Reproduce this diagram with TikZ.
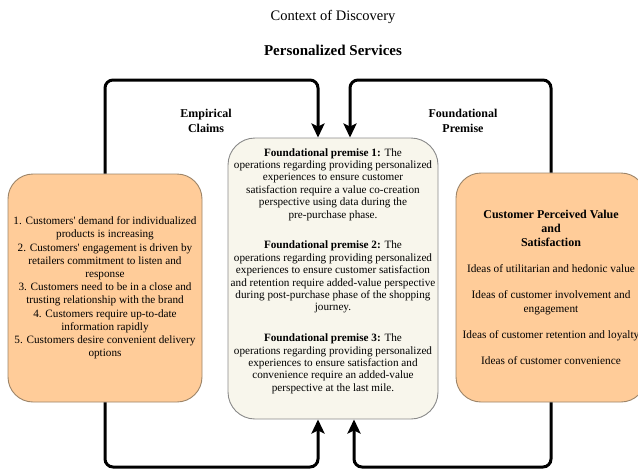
\documentclass[tikz,border=0pt]{standalone}
\usepackage{fontspec}
\setmainfont{Liberation Serif}
\usetikzlibrary{arrows.meta}
\definecolor{boxorange}{HTML}{FFCC99}
\definecolor{boxcream}{HTML}{F8F6EC}
\definecolor{edgebrown}{HTML}{9C8468}
\definecolor{edgegray}{HTML}{8A8A8A}
\begin{document}
\begin{tikzpicture}[x=1pt,y=-1pt,
    sidebox/.style={draw=edgebrown,fill=boxorange,rounded corners=25pt,line width=0.9pt,
      align=center,font=\fontsize{11.2}{13.2}\selectfont},
    midbox/.style={draw=edgegray,fill=boxcream,rounded corners=27pt,line width=0.9pt},
    flow/.style={line width=3pt,rounded corners=8pt,-{Stealth[length=14pt,width=13pt,inset=3pt]}}]
  \useasboundingbox (0,0) rectangle (638,472);
  % headings
  \node[font=\fontsize{14.5}{17}\selectfont] (ctx) at (333,17) {Context of Discovery};
  \node[font=\fontsize{15}{18}\selectfont\bfseries] (pers) at (333,50) {Personalized Services};
  \node[align=center,font=\fontsize{12}{15}\selectfont\bfseries] (emp) at (206,121) {Empirical\\Claims};
  \node[align=center,font=\fontsize{12}{15}\selectfont\bfseries] (fnd) at (463,121) {Foundational\\Premise};
  % boxes
  \node[sidebox,minimum width=194pt,minimum height=228pt] (claims) at (105,288)
    {1. Customers\textquotesingle{} demand for individualized\\products is increasing\\2. Customers\textquotesingle{} engagement is driven by\\retailers commitment to listen and\\response\\3. Customers need to be in a close and\\trusting relationship with the brand\\4. Customers require up-to-date\\information rapidly\\5. Customers desire convenient delivery\\options};
  \node[midbox,minimum width=210pt,minimum height=281pt] (prem) at (333,278.5) {};
  \node[align=center,font=\fontsize{11.2}{12.4}\selectfont] (premtext) at (333,271)
    {\textbf{Foundational premise 1:} The\\operations regarding providing personalized\\experiences to ensure customer\\satisfaction require a value co-creation\\perspective using data during the\\pre-purchase phase.\\[18.5pt]
     \textbf{Foundational premise 2:} The\\operations regarding providing personalized\\experiences to ensure customer satisfaction\\and retention require added-value perspective\\during post-purchase phase of the shopping\\journey.\\[18.5pt]
     \textbf{Foundational premise 3:} The\\operations regarding providing personalized\\experiences to ensure satisfaction and\\convenience require an added-value\\perspective at the last mile.};
  \node[sidebox,minimum width=190pt,minimum height=229pt,font=\fontsize{11.3}{14}\selectfont] (value) at (551,287.5)
    {\textbf{\fontsize{12}{14}\selectfont Customer Perceived Value}\\\textbf{\fontsize{12}{14}\selectfont and}\\\textbf{\fontsize{12}{14}\selectfont Satisfaction}\\[12pt]
     Ideas of utilitarian and hedonic value\\[12pt]
     Ideas of customer involvement and\\engagement\\[12pt]
     Ideas of customer retention and loyalty\\[12pt]
     Ideas of customer convenience};
  % loops
  \coordinate (top) at (333,80);
  \coordinate (bot) at (333,467);
  \begin{scope}[flow]
    \draw (claims.north) |- ([xshift=-15pt]top) -- ([xshift=-15pt]prem.north);
    \draw (value.north) |- ([xshift=17pt]top) -- ([xshift=17pt]prem.north);
    \draw (claims.south) |- ([xshift=-15pt]bot) -- ([xshift=-15pt]prem.south);
    \draw (value.south) |- ([xshift=21pt]bot) -- ([xshift=21pt]prem.south);
  \end{scope}
\end{tikzpicture}
\end{document}
